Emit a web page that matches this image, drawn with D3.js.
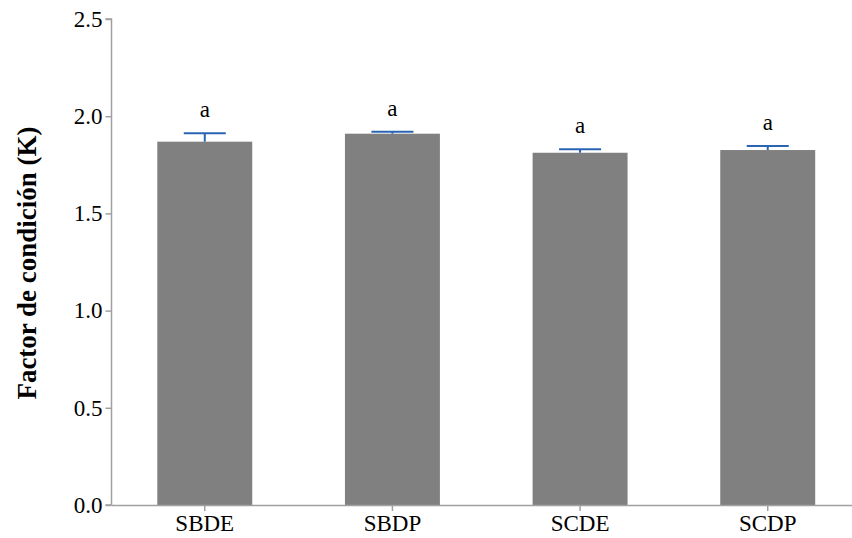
<!DOCTYPE html>
<html>
<head>
<meta charset="utf-8">
<script src="https://cdn.jsdelivr.net/npm/d3@7"></script>
<style>
  html, body { margin: 0; padding: 0; background: #fff; }
  svg { display: block; }
</style>
</head>
<body>
<svg id="chart" width="852" height="538"></svg>
<script>
// Condition factor per treatment
const categories = ["SBDE", "SBDP", "SCDE", "SCDP"];
const means = [1.869, 1.910, 1.812, 1.826];
const errors = [0.043, 0.010, 0.018, 0.021];
const groupLetters = ["a", "a", "a", "a"];
const yTicks = [0.0, 0.5, 1.0, 1.5, 2.0, 2.5];

const svg = d3.select("#chart");
const font = "'Liberation Serif', 'Times New Roman', serif";
const axisColor = "#a0a0a0";
const labelSize = 23;

const x = d3.scaleBand()
  .domain(categories)
  .range([111.5, 861])
  .paddingInner(0.494)
  .paddingOuter(0.244);

const y = d3.scaleLinear().domain([0, 2.5]).range([505, 19]);

// Bars
svg.append("g").selectAll("rect")
  .data(categories)
  .join("rect")
  .attr("x", d => x(d))
  .attr("width", x.bandwidth())
  .attr("y", (d, i) => y(means[i]))
  .attr("height", (d, i) => y(0) - y(means[i]))
  .attr("fill", "#808080");

// Upper error bars
const errColor = "#2a64b4";
const capW = 42;
const eb = svg.append("g").attr("stroke", errColor).attr("stroke-width", 2);
categories.forEach((c, i) => {
  const cx = x(c) + x.bandwidth() / 2;
  eb.append("line")
    .attr("x1", cx).attr("x2", cx)
    .attr("y1", y(means[i])).attr("y2", y(means[i] + errors[i]));
  eb.append("line")
    .attr("x1", cx - capW / 2).attr("x2", cx + capW / 2)
    .attr("y1", y(means[i] + errors[i])).attr("y2", y(means[i] + errors[i]));
});

// Significance letters
svg.append("g").selectAll("text")
  .data(categories)
  .join("text")
  .attr("x", d => x(d) + x.bandwidth() / 2)
  .attr("y", (d, i) => y(means[i] + errors[i]) - 16)
  .attr("text-anchor", "middle")
  .attr("font-family", font)
  .attr("font-size", labelSize)
  .attr("fill", "#000")
  .text((d, i) => groupLetters[i]);

// Y axis
const yAxis = svg.append("g")
  .attr("transform", "translate(111.5,0)")
  .call(d3.axisLeft(y).tickValues(yTicks).tickFormat(d3.format(".1f")).tickSize(6).tickPadding(3));
yAxis.select(".domain").attr("stroke", axisColor).attr("stroke-width", 1.5)
  .attr("d", `M-6,${y(2.5)}H0V${y(0)}H-6`);
yAxis.selectAll(".tick line").attr("stroke", axisColor).attr("stroke-width", 1.5);
yAxis.selectAll(".tick text").attr("font-family", font).attr("font-size", labelSize).attr("fill", "#000");

// X axis
const xAxis = svg.append("g")
  .attr("transform", `translate(0,${y(0)})`)
  .call(d3.axisBottom(x).tickSize(6).tickSizeOuter(0).tickPadding(4));
xAxis.select(".domain").attr("stroke", axisColor).attr("stroke-width", 1.5);
xAxis.selectAll(".tick line").attr("stroke", axisColor).attr("stroke-width", 1.5);
xAxis.selectAll(".tick text").attr("font-family", font).attr("font-size", labelSize).attr("fill", "#000");

// Y axis title
svg.append("text")
  .attr("transform", "translate(36,263) rotate(-90)")
  .attr("text-anchor", "middle")
  .attr("font-family", font)
  .attr("font-size", 27)
  .attr("font-weight", "bold")
  .attr("fill", "#000")
  .text("Factor de condición (K)");
</script>
</body>
</html>
